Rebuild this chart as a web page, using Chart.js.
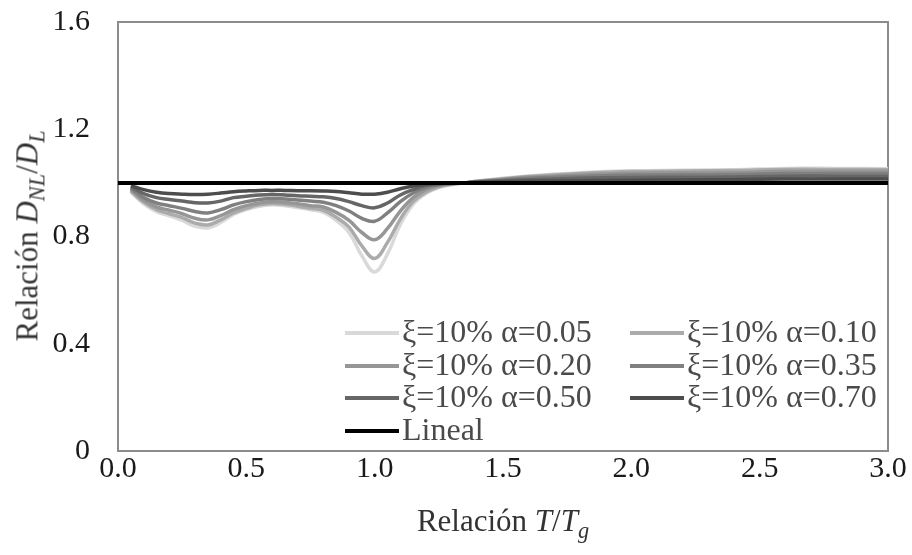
<!DOCTYPE html>
<html>
<head>
<meta charset="utf-8">
<script src="https://cdn.jsdelivr.net/npm/chart.js@4.4.0/dist/chart.umd.min.js"></script>
<style>
body { margin: 0; background: #fff; }
#wrap { position: relative; width: 912px; height: 555px; }
.axis-title { position: absolute; font-family: "Liberation Serif", "Times New Roman", serif; font-size: 31px; color: #333; white-space: nowrap; }
.axis-title sub { font-size: 0.72em; }
#xTitle { left: 503px; top: 503px; transform: translateX(-50%); }
#yTitle { left: 30px; top: 236px; transform: translate(-50%, -50%) rotate(-90deg); }
</style>
</head>
<body>
<div id="wrap">
  <canvas id="ratio-chart" width="912" height="555"></canvas>
  <div class="axis-title" id="xTitle">Relación <i>T</i>/<i>T</i><sub><i>g</i></sub></div>
  <div class="axis-title" id="yTitle">Relación <i>D</i><sub><i>NL</i></sub>/<i>D</i><sub><i>L</i></sub></div>
</div>
<script>
// period ratio T/Tg
let tRatio = [0.05, 0.10, 0.15, 0.20, 0.25, 0.30, 0.35, 0.40, 0.45, 0.50,
              0.55, 0.60, 0.65, 0.70, 0.75, 0.80, 0.85, 0.90, 0.95, 1.00,
              1.05, 1.10, 1.15, 1.20, 1.25, 1.30, 1.35, 1.40, 1.50, 1.60,
              1.80, 2.00, 2.20, 2.40, 2.60, 2.80, 3.00];

let alpha005 = [0.965, 0.922, 0.893, 0.877, 0.860, 0.838, 0.832, 0.852, 0.882, 0.900,
                0.913, 0.918, 0.915, 0.908, 0.900, 0.890, 0.860, 0.815, 0.728, 0.668,
                0.735, 0.845, 0.920, 0.960, 0.982, 0.993, 1.000, 1.007, 1.017, 1.026,
                1.038, 1.045, 1.047, 1.049, 1.054, 1.054, 1.053];
let alpha010 = [0.970, 0.928, 0.900, 0.885, 0.870, 0.850, 0.843, 0.862, 0.888, 0.905,
                0.918, 0.923, 0.920, 0.913, 0.905, 0.898, 0.872, 0.835, 0.765, 0.718,
                0.778, 0.865, 0.930, 0.965, 0.985, 0.995, 1.000, 1.006, 1.015, 1.024,
                1.035, 1.042, 1.044, 1.046, 1.050, 1.050, 1.049];
let alpha020 = [0.975, 0.935, 0.910, 0.898, 0.885, 0.868, 0.862, 0.878, 0.900, 0.915,
                0.925, 0.930, 0.927, 0.922, 0.915, 0.910, 0.890, 0.860, 0.815, 0.788,
                0.830, 0.895, 0.945, 0.975, 0.990, 0.997, 1.000, 1.005, 1.013, 1.021,
                1.030, 1.036, 1.038, 1.039, 1.043, 1.043, 1.043];
let alpha035 = [0.980, 0.945, 0.925, 0.915, 0.905, 0.893, 0.888, 0.900, 0.918, 0.930,
                0.938, 0.942, 0.940, 0.936, 0.932, 0.928, 0.915, 0.895, 0.868, 0.857,
                0.888, 0.930, 0.962, 0.982, 0.993, 0.998, 1.000, 1.004, 1.011, 1.017,
                1.024, 1.029, 1.030, 1.031, 1.035, 1.035, 1.035];
let alpha050 = [0.985, 0.960, 0.945, 0.938, 0.932, 0.926, 0.925, 0.932, 0.945, 0.950,
                0.955, 0.957, 0.955, 0.952, 0.950, 0.948, 0.942, 0.930, 0.915, 0.907,
                0.925, 0.955, 0.975, 0.990, 0.996, 0.999, 1.000, 1.003, 1.008, 1.012,
                1.017, 1.020, 1.021, 1.022, 1.025, 1.025, 1.025];
let alpha070 = [0.990, 0.975, 0.965, 0.960, 0.958, 0.957, 0.958, 0.962, 0.967, 0.970,
                0.972, 0.972, 0.972, 0.971, 0.971, 0.970, 0.968, 0.963, 0.958, 0.958,
                0.965, 0.978, 0.988, 0.995, 0.998, 1.000, 1.000, 1.002, 1.004, 1.006,
                1.008, 1.010, 1.011, 1.012, 1.014, 1.014, 1.014];

let linealX = [0, 3.0];
let linealY = [1.0, 1.0];

let seriesLabels = ['ξ=10% α=0.05', 'ξ=10% α=0.10', 'ξ=10% α=0.20',
                    'ξ=10% α=0.35', 'ξ=10% α=0.50', 'ξ=10% α=0.70', 'Lineal'];
let lineColors = ['#d9d9d9', '#ababab', '#969696', '#808080', '#666666', '#4d4d4d', '#000000'];

let xTickLabels = ['0.0', '0.5', '1.0', '1.5', '2.0', '2.5', '3.0'];
let yTickLabels = ['0', '0.4', '0.8', '1.2', '1.6'];

const toPoints = (xs, ys) => xs.map((x, i) => ({ x: x, y: ys[i] }));

let seriesValues = [alpha005, alpha010, alpha020, alpha035, alpha050, alpha070];
let datasets = seriesValues.map((vals, i) => ({
    label: seriesLabels[i],
    data: toPoints(tRatio, vals),
    borderColor: lineColors[i],
    borderWidth: 3.5,
    pointRadius: 0,
    tension: 0.4,
    fill: false,
    order: seriesValues.length - i
}));
datasets.push({
    label: seriesLabels[6],
    data: toPoints(linealX, linealY),
    borderColor: lineColors[6],
    borderWidth: 4,
    pointRadius: 0,
    fill: false,
    order: 0
});

const serif = 'Liberation Serif, Times New Roman, serif';

// frame round the plot area
const frame = {
    id: 'frame',
    beforeDatasetsDraw(chart) {
        const a = chart.chartArea, ctx = chart.ctx;
        ctx.save();
        ctx.strokeStyle = '#8c8c8c';
        ctx.lineWidth = 2;
        ctx.strokeRect(a.left, a.top, a.right - a.left, a.bottom - a.top);
        ctx.restore();
    }
};

// legend sits inside the plot, two columns
const insideLegend = {
    id: 'insideLegend',
    afterDraw(chart) {
        const ctx = chart.ctx;
        const colX = [345, 630];
        const rowY = [333, 366, 398, 431];
        ctx.save();
        ctx.font = '32px ' + serif;
        ctx.textBaseline = 'middle';
        ctx.fillStyle = '#4a4a4a';
        chart.data.datasets.forEach((ds, i) => {
            const x = colX[i % 2], y = rowY[Math.floor(i / 2)];
            ctx.strokeStyle = ds.borderColor;
            ctx.lineWidth = 4;
            ctx.beginPath();
            ctx.moveTo(x, y);
            ctx.lineTo(x + 54, y);
            ctx.stroke();
            ctx.fillText(ds.label, x + 57, y + 1);
        });
        ctx.restore();
    }
};

let ratioChart = new Chart(document.getElementById('ratio-chart'), {
    type: 'line',
    data: { datasets: datasets },
    options: {
        responsive: false,
        animation: false,
        layout: { padding: { top: 22, right: 24, left: 0, bottom: 0 } },
        plugins: { legend: { display: false }, tooltip: { enabled: false } },
        scales: {
            x: {
                type: 'linear',
                min: 0, max: 3,
                grid: { display: false },
                border: { display: false },
                ticks: {
                    stepSize: 0.5,
                    padding: -8,
                    color: '#1a1a1a',
                    font: { family: serif, size: 30 },
                    callback: (v, i) => xTickLabels[i]
                },
                afterFit: (scale) => {
                    scale.height = 104;
                    scale.paddingLeft = 0;
                    scale.paddingRight = 0;
                }
            },
            y: {
                min: 0, max: 1.6,
                grid: { display: false },
                border: { display: false },
                ticks: {
                    stepSize: 0.4,
                    padding: 20,
                    color: '#1a1a1a',
                    font: { family: serif, size: 30 },
                    callback: (v, i) => yTickLabels[i]
                },
                afterFit: (scale) => {
                    scale.width = 118;
                    scale.paddingTop = 0;
                    scale.paddingBottom = 0;
                }
            }
        }
    },
    plugins: [frame, insideLegend]
});
</script>
</body>
</html>
